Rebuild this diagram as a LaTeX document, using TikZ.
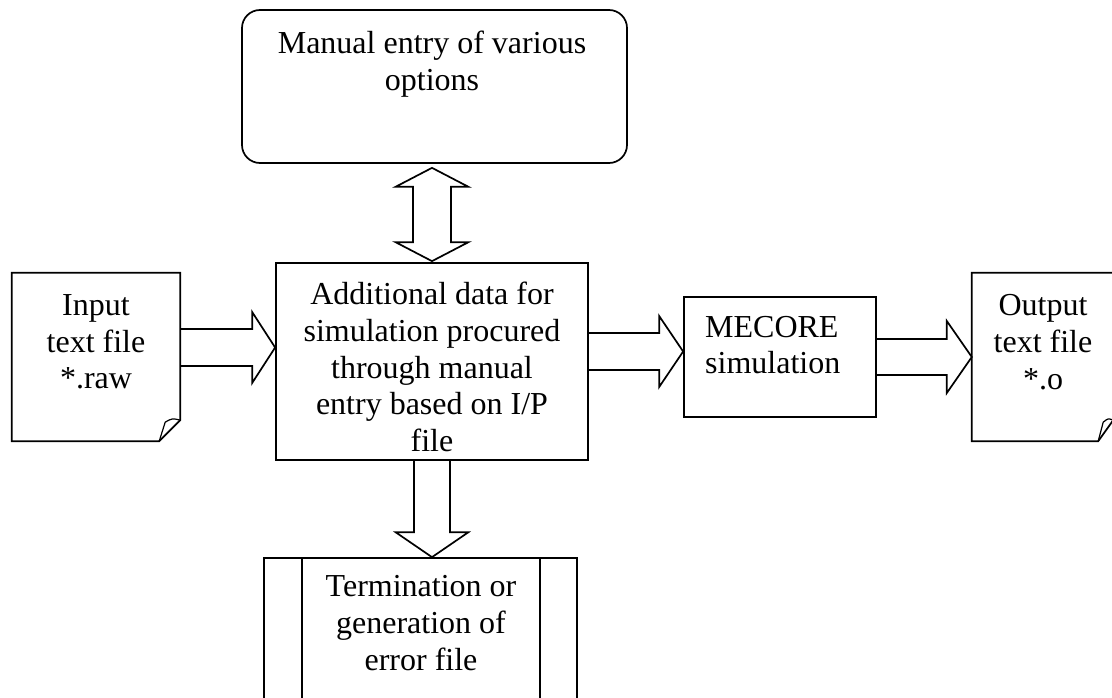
\documentclass[tikz,border=0pt]{standalone}
\usepackage{fontspec}
\setmainfont{Liberation Serif}
\usetikzlibrary{calc}

% horizontal block arrow: tail, tip, shaft half-width, head half-width, head length
\newcommand\harrow[5]{%
  \draw[blk] ($(#1)+(0,-#3)$) -- ($(#2)+(-#5,-#3)$) -- ($(#2)+(-#5,-#4)$) -- (#2)
    -- ($(#2)+(-#5,#4)$) -- ($(#2)+(-#5,#3)$) -- ($(#1)+(0,#3)$);}
% downward block arrow: tail, tip, shaft half-width, head half-width, head length
\newcommand\varrow[5]{%
  \draw[blk] ($(#1)+(-#3,0)$) -- ($(#2)+(-#3,-#5)$) -- ($(#2)+(-#4,-#5)$) -- (#2)
    -- ($(#2)+(#4,-#5)$) -- ($(#2)+(#3,-#5)$) -- ($(#1)+(#3,0)$);}

\begin{document}
\begin{tikzpicture}[x=1pt,y=-1pt,line join=miter,
  box/.style={draw,line width=1.7pt,inner sep=0pt},
  frame/.style={inner sep=0pt},
  txt/.style={align=center,inner sep=0pt,font=\fontsize{32}{36.7}\selectfont},
  blk/.style={draw,line width=1.7pt},
  outline/.style={line width=1.7pt}]
\useasboundingbox (0,0) rectangle (1112,698);

% manual options (rounded box)
\node[box,rounded corners=18pt,minimum width=385,minimum height=153] (opts) at (434.5,86.5) {};
\node[txt] (topts) at (432,64) {Manual entry of various\\options};

% main processing box
\node[box,minimum width=312,minimum height=197] (main) at (432,361.5) {};
\node[txt] (tmain) at (432,367) {Additional data for\\simulation procured\\through manual\\entry based on I/P\\file};

% simulation box
\node[box,minimum width=192,minimum height=120] (sim) at (780,357) {};
\node[txt,align=left,anchor=west] (tsim) at (705,345) {MECORE\\simulation};

% input document
\node[frame,minimum width=168,minimum height=168] (in) at (96,357) {};
\draw[outline] (in.north west) -- (in.north east) -- ($(in.south east)+(0,-21)$)
  -- ($(in.south east)+(-21,0)$) -- (in.south west) -- cycle;
\draw[outline,line width=1.2pt] ($(in.south east)+(-21,0)$) -- ($(in.south east)+(-15,-19)$)
  .. controls ($(in.south east)+(-8,-23)$) .. ($(in.south east)+(0,-21)$);
\node[txt] (tin) at (96,342) {Input\\text file\\*.raw};

% output document
\node[frame,minimum width=141,minimum height=168] (out) at (1042.5,357) {};
\draw[outline] (out.north west) -- (out.north east) -- ($(out.south east)+(0,-21)$)
  -- ($(out.south east)+(-15,0)$) -- (out.south west) -- cycle;
\draw[outline,line width=1.2pt] ($(out.south east)+(-15,0)$) -- ($(out.south east)+(-10,-19)$)
  .. controls ($(out.south east)+(-5,-23)$) .. ($(out.south east)+(0,-21)$);
\node[txt] (tout) at (1043,342) {Output\\text file\\*.o};

% termination (predefined process)
\node[box,minimum width=313,minimum height=152] (term) at (420.5,634) {};
\draw[outline] ($(term.north west)+(39,0)$) -- ($(term.south west)+(39,0)$);
\draw[outline] ($(term.north east)+(-38,0)$) -- ($(term.south east)+(-38,0)$);
\node[txt] (tterm) at (421,623) {Termination or\\generation of\\error file};

% connectors
\coordinate (a1s) at (in.east |- 0,347.5);
\coordinate (a1t) at (main.west |- 0,347.5);
\harrow{a1s}{a1t}{18.5}{35.5}{23}

\coordinate (a2s) at (main.east |- 0,351.5);
\coordinate (a2t) at (sim.west |- 0,351.5);
\harrow{a2s}{a2t}{18.5}{35.5}{24}

\coordinate (a3s) at (sim.east |- 0,357);
\coordinate (a3t) at (out.west |- 0,357);
\harrow{a3s}{a3t}{18}{36}{25}

\coordinate (a4s) at (main.south);
\coordinate (a4t) at (main.south |- term.north);
\varrow{a4s}{a4t}{18}{36.5}{25}

\coordinate (dT) at ($(main.north |- opts.south)+(0,4)$);
\coordinate (dB) at ($(main.north)+(0,-1)$);
\draw[blk] (dT) -- ($(dT)+(36.5,19)$) -- ($(dT)+(19,19)$) -- ($(dB)+(19,-19)$)
  -- ($(dB)+(36.5,-19)$) -- (dB) -- ($(dB)+(-36.5,-19)$) -- ($(dB)+(-19,-19)$)
  -- ($(dT)+(-19,19)$) -- ($(dT)+(-36.5,19)$) -- cycle;
\end{tikzpicture}
\end{document}
